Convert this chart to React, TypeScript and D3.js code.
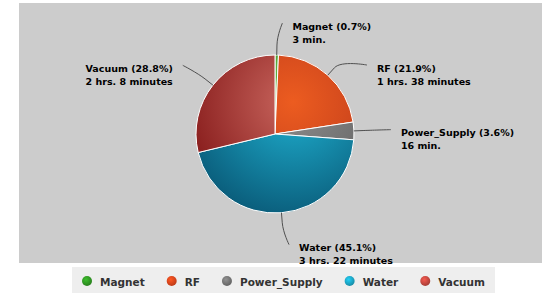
import React, { useEffect, useRef } from 'react';
import * as d3 from 'd3';

const categories = ['Magnet', 'RF', 'Power_Supply', 'Water', 'Vacuum'];
const shares = [0.7, 21.9, 3.6, 45.1, 28.8];
const durations = ['3 min.', '1 hrs. 38 minutes', '16 min.', '3 hrs. 22 minutes', '2 hrs. 8 minutes'];
const lightColors = ['#6fbf4a', '#ec5c20', '#8e8e8e', '#1fb2d2', '#c9665e'];
const darkColors = ['#2a7d1c', '#b8361a', '#5c5c5c', '#0a5c7a', '#841818'];
const markerColors = ['#2e8f22', '#d6421a', '#6e6e6e', '#1a9cba', '#b8443c'];

const App = () => {
  const svgRef = useRef<SVGSVGElement | null>(null);

  useEffect(() => {
    const width = 542;
    const height = 293;
    const plot = { x: 19, y: 3, w: 523, h: 260 };
    const cx = 275;
    const cy = 134;
    const r = 79;
    const distance = 32;
    const font = '"DejaVu Sans", Verdana, sans-serif';

    const svg = d3.select(svgRef.current)
      .attr('width', width)
      .attr('height', height)
      .attr('viewBox', [0, 0, width, height].join(' '));
    svg.selectAll('*').remove();

    const defs = svg.append('defs');
    categories.forEach((c, i) => {
      // pie group is translated to the centre, so gradient coords are relative to it
      const g = defs.append('radialGradient')
        .attr('id', `slice-${i}`)
        .attr('gradientUnits', 'userSpaceOnUse')
        .attr('cx', 18).attr('cy', -32).attr('r', 118);
      g.append('stop').attr('offset', 0).attr('stop-color', lightColors[i]);
      g.append('stop').attr('offset', 1).attr('stop-color', darkColors[i]);

      const m = defs.append('radialGradient')
        .attr('id', `marker-${i}`)
        .attr('cx', 0.4).attr('cy', 0.35).attr('r', 0.7);
      m.append('stop').attr('offset', 0).attr('stop-color', d3.color(markerColors[i])!.brighter(0.8).toString());
      m.append('stop').attr('offset', 1).attr('stop-color', d3.color(markerColors[i])!.darker(0.4).toString());
    });

    svg.append('rect').attr('width', width).attr('height', height).attr('fill', '#ffffff');
    svg.append('rect')
      .attr('x', plot.x).attr('y', plot.y)
      .attr('width', plot.w).attr('height', plot.h)
      .attr('fill', '#cccccc');

    const pie = d3.pie<number>().sort(null).value(d => d)(shares);
    const arc = d3.arc<d3.PieArcDatum<number>>().innerRadius(0).outerRadius(r);

    svg.append('g')
      .attr('transform', `translate(${cx},${cy})`)
      .selectAll('path')
      .data(pie)
      .join('path')
      .attr('d', arc)
      .attr('fill', (d, i) => `url(#slice-${i})`)
      .attr('stroke', '#ffffff')
      .attr('stroke-width', 1)
      .attr('stroke-linejoin', 'round');

    // data label placement, roughly like highcharts
    const R = r + distance;
    const labels = pie.map((d, i) => {
      const mid = (d.startAngle + d.endAngle) / 2;
      return { i, mid, right: mid < Math.PI, y: cy - R * Math.cos(mid), x: 0 };
    });
    [true, false].forEach(side => {
      const list = labels.filter(l => l.right === side).sort((a, b) => a.y - b.y);
      for (let k = 1; k < list.length; k++) {
        if (list[k].y - list[k - 1].y < 42) list[k].y = list[k - 1].y + 42;
      }
    });
    labels.forEach(l => {
      const dy = Math.min(Math.abs(l.y - cy), R);
      const dx = Math.sqrt(R * R - dy * dy) + 5;
      l.x = l.right ? cx + dx : cx - dx;
    });

    const lg = svg.append('g');
    labels.forEach(l => {
      const sx = Math.sin(l.mid);
      const sy = -Math.cos(l.mid);
      const tx = cx + r * sx, ty = cy + r * sy;
      const bx = cx + (r + 10) * sx, by = cy + (r + 10) * sy;
      const p = d3.path();
      p.moveTo(l.x, l.y);
      p.bezierCurveTo(l.x, l.y, 2 * bx - tx, 2 * by - ty, bx, by);
      p.lineTo(tx, ty);
      lg.append('path')
        .attr('d', p.toString())
        .attr('fill', 'none')
        .attr('stroke', '#505050')
        .attr('stroke-width', 1);

      const t = lg.append('text')
        .attr('x', l.right ? l.x + 10 : l.x - 10)
        .attr('y', l.y + 6.5)
        .attr('text-anchor', l.right ? 'start' : 'end')
        .attr('font-family', font)
        .attr('font-weight', 'bold')
        .attr('font-size', 9.5)
        .attr('fill', '#000000');
      t.append('tspan').text(`${categories[l.i]} (${shares[l.i]}%)`);
      t.append('tspan')
        .attr('x', l.right ? l.x + 10 : l.x - 10)
        .attr('dy', 13)
        .text(durations[l.i]);
    });

    // legend
    const legend = { x: 72, y: 267, w: 423, h: 30 };
    svg.append('rect')
      .attr('x', legend.x).attr('y', legend.y)
      .attr('width', legend.w).attr('height', legend.h)
      .attr('fill', '#eeeeee');
    const items = svg.append('g');
    let xPos = legend.x + 15;
    categories.forEach((c, i) => {
      items.append('circle')
        .attr('cx', xPos).attr('cy', 281)
        .attr('r', 5)
        .attr('fill', `url(#marker-${i})`);
      const txt = items.append('text')
        .attr('x', xPos + 13)
        .attr('y', 285.5)
        .attr('font-family', font)
        .attr('font-weight', 'bold')
        .attr('font-size', 10.5)
        .attr('fill', '#333333')
        .text(c);
      const w = (txt.node() as SVGTextElement).getComputedTextLength();
      xPos += 13 + w + 27;
    });
  }, []);

  return (
    <svg ref={svgRef} style={{ position: 'absolute', left: 0, top: 0 }}></svg>
  );
};

export default App;
